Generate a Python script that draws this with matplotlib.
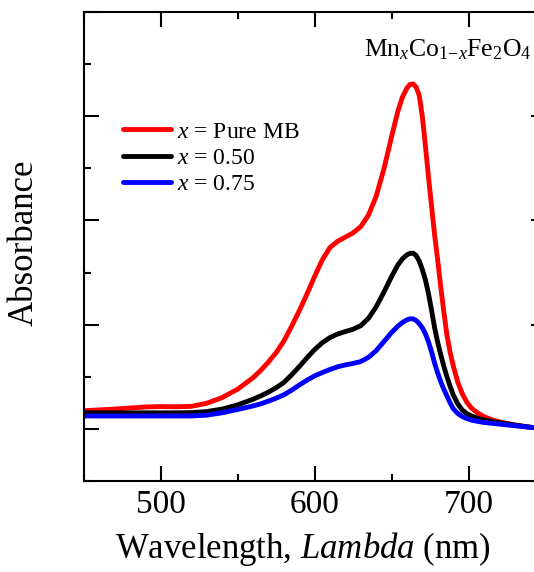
import numpy as np
import matplotlib
matplotlib.use("Agg")
import matplotlib.pyplot as plt
from matplotlib.ticker import MultipleLocator

plt.rcParams['font.family'] = ['Liberation Serif', 'DejaVu Serif']
plt.rcParams['mathtext.fontset'] = 'custom'
plt.rcParams['mathtext.rm'] = 'Liberation Serif'
plt.rcParams['mathtext.it'] = 'Liberation Serif:italic'

# wavelength (nm) and absorbance
wavelength = [450, 460, 470, 480, 490, 500, 510, 520, 530, 540, 550, 560, 565, 570, 575,
              580, 585, 590, 595, 600, 605, 610, 615, 620, 625, 630, 635, 640, 645, 650,
              654, 657, 660, 662, 664, 666, 668, 670, 672, 674, 676, 678, 680, 682, 684,
              686, 688, 690, 693, 696, 699, 702, 706, 710, 715, 720, 730, 740, 750]
abs_pure_mb = [0.087, 0.091, 0.095, 0.10, 0.105, 0.107, 0.106, 0.108, 0.123, 0.15, 0.19,
               0.245, 0.28, 0.32, 0.365, 0.42, 0.49, 0.565, 0.645, 0.73, 0.81, 0.87, 0.90,
               0.92, 0.94, 0.97, 1.025, 1.115, 1.245, 1.40, 1.52, 1.59, 1.635, 1.652, 1.655,
               1.64, 1.60, 1.50, 1.36, 1.21, 1.07, 0.93, 0.81, 0.68, 0.56, 0.45, 0.37, 0.305,
               0.225, 0.168, 0.127, 0.099, 0.076, 0.059, 0.044, 0.034, 0.019, 0.008, 0.0]
abs_050 = [0.077, 0.077, 0.077, 0.077, 0.077, 0.077, 0.077, 0.078, 0.083, 0.095, 0.115,
           0.142, 0.158, 0.176, 0.197, 0.222, 0.258, 0.298, 0.34, 0.38, 0.413, 0.438, 0.455,
           0.467, 0.478, 0.495, 0.53, 0.585, 0.655, 0.73, 0.785, 0.815, 0.835, 0.842, 0.843,
           0.832, 0.805, 0.765, 0.715, 0.65, 0.57, 0.485, 0.415, 0.355, 0.30, 0.25, 0.205, 0.165,
           0.12, 0.09, 0.073, 0.062, 0.051, 0.043, 0.036, 0.03, 0.018, 0.008, 0.0]
abs_075 = [0.062, 0.062, 0.062, 0.062, 0.062, 0.062, 0.062, 0.062, 0.066, 0.077, 0.093,
           0.11, 0.12, 0.133, 0.147, 0.163, 0.185, 0.21, 0.233, 0.254, 0.27, 0.285, 0.298,
           0.307, 0.314, 0.323, 0.343, 0.375, 0.418, 0.462, 0.492, 0.51, 0.523, 0.528, 0.528,
           0.52, 0.505, 0.485, 0.457, 0.418, 0.37, 0.315, 0.268, 0.226, 0.19, 0.158, 0.126,
           0.098, 0.074, 0.059, 0.049, 0.042, 0.036, 0.031, 0.027, 0.023, 0.015, 0.008, 0.0]

labels = [r'$x$ = Pure MB', r'$x$ = 0.50', r'$x$ = 0.75']
colors = ['#ff0000', '#000000', '#0000ff']

fig = plt.figure(figsize=(5.34, 5.72), dpi=100)
# right spine sits just outside the canvas, as in the original
ax = fig.add_axes([83.5 / 534, 91 / 572, 462 / 534, 469 / 572])

for y, lab, c in zip([abs_pure_mb, abs_050, abs_075], labels, colors):
    ax.plot(wavelength, y, color=c, lw=3.5, label=lab,
            solid_capstyle='round', solid_joinstyle='round')

ax.set_xlim(450, 750)
ax.set_ylim(-0.25, 2.0)
ax.xaxis.set_major_locator(MultipleLocator(100))
ax.xaxis.set_minor_locator(MultipleLocator(50))
ax.yaxis.set_major_locator(MultipleLocator(0.5))
ax.yaxis.set_minor_locator(MultipleLocator(0.25))
ax.tick_params(which='both', direction='in', top=True, right=True, width=1.5,
               labelsize=24, pad=6, labelleft=False)
ax.tick_params(which='major', length=10.5)
ax.tick_params(which='minor', length=5)
for s in ax.spines.values():
    s.set_linewidth(1.5)

ax.set_xlabel(r'Wavelength, $\mathit{Lambda}$ (nm)', fontsize=25)
ax.xaxis.set_label_coords(0.475, -0.105)
ax.set_ylabel('Absorbance', fontsize=25)
ax.yaxis.set_label_coords(-0.092, 0.508)

ax.text(364 / 534, 1 - 56 / 572, r'Mn$_x$Co$_{1\mathrm{-}x}$Fe$_2$O$_4$', fontsize=18.5,
        transform=fig.transFigure, ha='left', va='baseline')

ax.legend(loc='upper left', bbox_to_anchor=(123 / 534, 1 - 121 / 572),
          bbox_transform=fig.transFigure, frameon=False, fontsize=17,
          handlelength=2.03, handletextpad=0.25, labelspacing=0.2,
          borderpad=0, borderaxespad=0)

fig.savefig('out.png', dpi=100)
